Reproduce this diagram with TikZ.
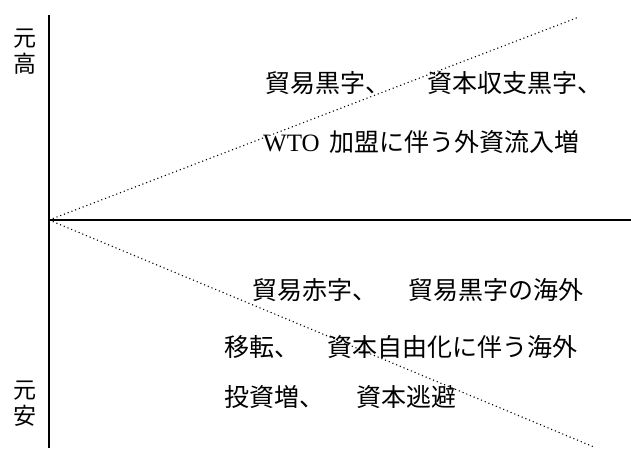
\documentclass[tikz,border=0pt]{standalone}
\usepackage{fontspec}
\setmainfont{Liberation Serif}
\newfontfamily\jp{Noto Sans CJK JP}
\usepackage{tikz}
\usetikzlibrary{calc}
\tikzset{
	axisline/.style={line width=1.6pt},
	trendline/.style={line width=1.1pt, dash pattern=on 1.1pt off 2.9pt},
	txt/.style={anchor=west, inner sep=0pt, font=\jp\fontsize{25}{26}\selectfont},
	sidelabel/.style={inner sep=0pt, align=center, font=\jp\fontsize{23}{26}\selectfont}
}

\begin{document}
\begin{tikzpicture}[x=1pt, y=-1pt]
		%%%%% START %%%%%
		\useasboundingbox (0, 0) rectangle (631, 448);
		
		\coordinate (O) at (49, 220);
		\coordinate (top) at (49, 15);
		\coordinate (bottom) at (49, 448);
		\coordinate (right) at (631, 220);
		\coordinate (upend) at (579, 17);
		\coordinate (downend) at (594, 447);
		
		\draw[axisline] (top) -- (bottom);
		\draw[axisline] (O) -- (right);
		\draw[trendline] (O) -- (upend);
		\draw[trendline] (O) -- (downend);
		
		\node[sidelabel] (high) at (25, 52) {元\\高};
		\node[sidelabel] (low) at (25, 404) {元\\安};
		
		\node[txt] (up1) at (265, 83) {貿易黒字、\hspace{37pt}資本収支黒字、};
		\node[txt] (up2) at (263, 142) {{\rmfamily WTO}\hspace{10pt}加盟に伴う外資流入増};
		
		\node[txt] (lo1) at (252, 290) {貿易赤字、\hspace{31pt}貿易黒字の海外};
		\node[txt] (lo2) at (224, 347) {移転、\hspace{28pt}資本自由化に伴う海外};
		\node[txt] (lo3) at (224, 397) {投資増、\hspace{32pt}資本逃避};
		
		%%%%% END %%%%%
	\end{tikzpicture}
\end{document}
